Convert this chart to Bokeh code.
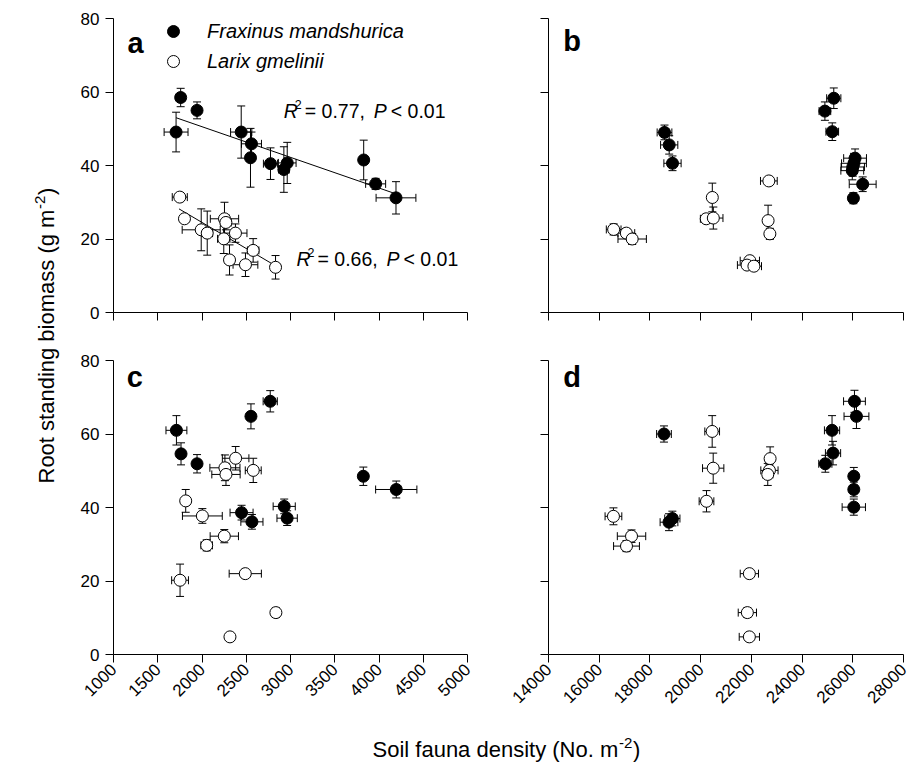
import math
from bokeh.plotting import figure
from bokeh.layouts import row, column
from bokeh.models import (Range1d, FixedTicker, ColumnDataSource, Whisker, TeeHead,
                          Label, Legend, LegendItem)
from bokeh.embed import file_html
from bokeh.resources import INLINE

FONT = "Liberation Sans"
MID = 0.3465  # distance (in em) from alphabetic baseline up to the em-box middle

# ---------------- data ----------------
y_ticks = [0, 20, 40, 60, 80]
left_x_ticks = [1000, 1500, 2000, 2500, 3000, 3500, 4000, 4500, 5000]
right_x_ticks = [14000, 16000, 18000, 20000, 22000, 24000, 26000, 28000]

# panel a
a_fm_x = [1759, 1944, 1707, 2443, 2559, 2548, 2774, 2963, 2925, 3827, 3962, 4192]
a_fm_xerr = [50, 30, 135, 120, 113, 40, 80, 100, 60, 20, 113, 225]
a_fm_y = [58.5, 55.0, 49.1, 49.1, 45.9, 42.1, 40.5, 40.7, 38.9, 41.5, 35.0, 31.2]
a_fm_yerr = [2.5, 2.3, 5.4, 7.1, 3.2, 8.0, 4.3, 5.6, 6.2, 5.4, 1.5, 4.4]
a_lg_x = [1749, 1802, 1991, 2059, 2254, 2270, 2246, 2378, 2311, 2491, 2578, 2831]
a_lg_xerr = [85, 30, 215, 60, 160, 60, 70, 130, 50, 140, 65, 40]
a_lg_y = [31.4, 25.5, 22.5, 21.6, 25.5, 24.5, 20.05, 21.6, 14.3, 13.0, 16.9, 12.3]
a_lg_yerr = [0.5, 1.0, 5.7, 6.0, 4.5, 2.0, 4.0, 2.5, 4.1, 3.2, 3.2, 3.2]
a_fm_fit_x = [1707, 4165]
a_fm_fit_y = [53.0, 32.5]
a_lg_fit_x = [1740, 2860]
a_lg_fit_y = [28.2, 12.3]
a_stats = [("0.77", "0.01"), ("0.66", "0.01")]

# panel b
b_fm_x = [18575, 18760, 18890, 24900, 25250, 25190, 26090, 26047, 26000, 25980, 26390, 26024]
b_fm_xerr = [290, 340, 340, 230, 280, 250, 450, 490, 460, 450, 530, 100]
b_fm_y = [49.0, 45.6, 40.6, 54.8, 58.3, 49.2, 42.0, 40.6, 39.6, 38.6, 34.9, 31.1]
b_fm_yerr = [2.0, 2.5, 2.0, 2.5, 2.8, 2.4, 2.5, 2.7, 2.5, 2.5, 2.0, 1.5]
b_lg_x = [16570, 17070, 17300, 20460, 20220, 20500, 22690, 22660, 22730, 21940, 21830, 22100]
b_lg_xerr = [290, 330, 560, 100, 230, 380, 330, 100, 120, 380, 380, 300]
b_lg_y = [22.6, 21.6, 20.0, 31.3, 25.5, 25.7, 35.8, 25.0, 21.4, 14.1, 12.9, 12.6]
b_lg_yerr = [1.5, 1.2, 1.5, 3.9, 1.0, 3.0, 0.8, 4.2, 1.5, 1.0, 1.0, 1.0]

# panel c
c_fm_x = [1711, 1763, 1944, 2553, 2771, 2447, 2564, 2929, 2962, 3823, 4195]
c_fm_xerr = [118, 40, 40, 40, 80, 130, 125, 125, 115, 25, 233]
c_fm_y = [61.0, 54.6, 51.9, 64.8, 68.9, 38.6, 36.1, 40.3, 37.1, 48.5, 44.9]
c_fm_yerr = [4.0, 3.0, 2.5, 3.4, 2.9, 2.0, 2.0, 2.0, 2.0, 2.5, 2.3]
c_lg_x = [1816, 2004, 2053, 2252, 1752, 2489, 2835, 2316, 2380, 2259, 2271, 2579]
c_lg_xerr = [30, 225, 65, 160, 95, 182, 40, 40, 150, 170, 160, 90]
c_lg_y = [41.8, 37.7, 29.7, 32.2, 20.2, 22.0, 11.4, 4.8, 53.4, 50.8, 49.0, 50.1]
c_lg_yerr = [3.1, 2.0, 1.5, 1.8, 4.4, 1.0, 1.3, 0.7, 3.2, 3.5, 3.0, 3.3]

# panel d
d_fm_x = [18554, 18752, 18884, 25182, 25221, 24917, 26066, 26145, 26040, 26040, 26040]
d_fm_xerr = [290, 350, 300, 300, 300, 260, 430, 490, 100, 100, 460]
d_fm_y = [60.0, 36.0, 37.0, 61.0, 54.8, 51.9, 68.9, 64.8, 48.5, 44.9, 40.1]
d_fm_yerr = [2.2, 2.3, 2.0, 4.0, 3.2, 2.3, 3.0, 3.3, 2.4, 2.0, 2.2]
d_lg_x = [16561, 17274, 17076, 20231, 20455, 20495, 22739, 22713, 22647, 21921, 21842, 21921]
d_lg_xerr = [330, 560, 510, 290, 290, 420, 100, 340, 200, 360, 360, 400]
d_lg_y = [37.6, 32.2, 29.5, 41.7, 60.7, 50.7, 53.3, 50.1, 49.0, 22.0, 11.4, 4.8]
d_lg_yerr = [2.3, 1.7, 1.5, 2.9, 4.3, 4.1, 3.2, 1.5, 3.0, 1.0, 1.3, 0.7]

species = ["Fraxinus mandshurica", "Larix gmelinii"]
panel_letters = ["a", "b", "c", "d"]
y_title = ["Root standing biomass (g m", "-2", ")"]
x_title = ["Soil fauna density (No. m", "-2", ")"]


# ---------------- helpers ----------------
def make_panel(xr, xticks, width, height, borders, show_x, show_y):
    p = figure(width=width, height=height, x_range=Range1d(*xr), y_range=Range1d(0, 80),
               output_backend="svg", toolbar_location=None,
               min_border_left=borders[0], min_border_right=borders[1],
               min_border_top=borders[2], min_border_bottom=borders[3])
    p.grid.visible = False
    p.outline_line_color = None
    p.background_fill_color = "white"
    p.border_fill_color = "white"
    p.xaxis.ticker = FixedTicker(ticks=xticks)
    p.yaxis.ticker = FixedTicker(ticks=y_ticks)
    for ax in (p.xaxis[0], p.yaxis[0]):
        ax.axis_line_color = "black"
        ax.axis_line_width = 1
        ax.major_tick_line_color = "black"
        ax.major_tick_out = 8
        ax.major_tick_in = 0
        ax.minor_tick_line_color = None
        ax.major_label_text_font = FONT
        ax.major_label_text_font_size = "17px"
        ax.major_label_text_color = "black"
        ax.major_label_standoff = 6
    if show_x:
        p.xaxis.major_label_orientation = math.pi / 4
        p.xaxis.major_label_standoff = 4
    else:
        p.xaxis.major_label_text_font_size = "0px"
        p.xaxis.major_label_text_color = None
    if not show_y:
        p.yaxis.major_label_text_font_size = "0px"
        p.yaxis.major_label_text_color = None
    return p


def add_series(p, x, xerr, y, yerr, fill):
    src = ColumnDataSource(dict(
        x=x, y=y,
        xl=[a - b for a, b in zip(x, xerr)], xu=[a + b for a, b in zip(x, xerr)],
        yl=[a - b for a, b in zip(y, yerr)], yu=[a + b for a, b in zip(y, yerr)],
    ))
    for dim, base, lo, up in (("height", "x", "yl", "yu"), ("width", "y", "xl", "xu")):
        w = Whisker(source=src, base=base, lower=lo, upper=up, dimension=dim,
                    line_color="black", line_width=1,
                    lower_head=TeeHead(size=8, line_color="black", line_width=1),
                    upper_head=TeeHead(size=8, line_color="black", line_width=1))
        p.add_layout(w)
    r = p.scatter("x", "y", source=src, size=12, marker="circle",
                  fill_color=fill, line_color="black", line_width=1)
    return r


def text_at(p, x, y_base, txt, size_px, style, y_per_px, angle=0.0):
    # place text so that its alphabetic baseline sits at y_base (data units)
    if angle == 0.0:
        xm, ym = x, y_base + MID * size_px * y_per_px
    else:  # rotated 90deg: "up" of the text points to -x
        xm, ym = x - MID * size_px * y_per_px, y_base
    p.add_layout(Label(x=xm, y=ym, text=txt, text_font=FONT, text_font_style=style,
                       text_font_size="%spx" % size_px, text_color="black",
                       text_baseline="middle", text_align="left", angle=angle))


def stat_text(p, x, y_base, r2, pv, x_per_px, y_per_px):
    pieces = [
        (0, 0, "R", "italic", 19.5),
        (11, 8.4, "2", "normal", 12.5),
        (21, 0, "= %s," % r2, "normal", 19.5),
        (90, 0, "P", "italic", 19.5),
        (107, 0, "< %s" % pv, "normal", 19.5),
    ]
    for dx, dy, t, style, size in pieces:
        text_at(p, x + dx * x_per_px, y_base + dy * y_per_px, t, size, style, y_per_px)


# ---------------- panels ----------------
pa = make_panel((1000, 5000), left_x_ticks, 448, 337, (53, 41, 18, 25), False, True)
pb = make_panel((14000, 28000), right_x_ticks, 408, 337, (40, 13, 18, 25), False, False)
pc = make_panel((1000, 5000), left_x_ticks, 448, 393, (53, 41, 23, 76), True, True)
pd = make_panel((14000, 28000), right_x_ticks, 408, 393, (40, 13, 23, 76), True, False)

pa.line(a_fm_fit_x, a_fm_fit_y, line_color="black", line_width=1)
pa.line(a_lg_fit_x, a_lg_fit_y, line_color="black", line_width=1)
ra_fm = add_series(pa, a_fm_x, a_fm_xerr, a_fm_y, a_fm_yerr, "black")
ra_lg = add_series(pa, a_lg_x, a_lg_xerr, a_lg_y, a_lg_yerr, "white")

add_series(pb, b_fm_x, b_fm_xerr, b_fm_y, b_fm_yerr, "black")
add_series(pb, b_lg_x, b_lg_xerr, b_lg_y, b_lg_yerr, "white")
add_series(pc, c_fm_x, c_fm_xerr, c_fm_y, c_fm_yerr, "black")
add_series(pc, c_lg_x, c_lg_xerr, c_lg_y, c_lg_yerr, "white")
add_series(pd, d_fm_x, d_fm_xerr, d_fm_y, d_fm_yerr, "black")
add_series(pd, d_lg_x, d_lg_xerr, d_lg_y, d_lg_yerr, "white")

legend = Legend(items=[LegendItem(label=species[0], renderers=[ra_fm]),
                       LegendItem(label=species[1], renderers=[ra_lg])],
                location=(45, 236), orientation="vertical",
                glyph_width=30, glyph_height=30, label_height=30, spacing=0,
                label_standoff=19, padding=0, margin=0,
                border_line_color=None, background_fill_alpha=0,
                label_text_font=FONT, label_text_font_style="italic",
                label_text_font_size="20px", label_text_color="black")
pa.add_layout(legend)

# unit conversions (data units per screen pixel)
lx = 4000 / 354
rx = 14000 / 355
py = 80 / 294

stat_text(pa, 2924, 53.1, a_stats[0][0], a_stats[0][1], lx, py)
stat_text(pa, 3068, 12.8, a_stats[1][0], a_stats[1][1], lx, py)

text_at(pa, 1158, 70.7, panel_letters[0], 29, "bold", py)
text_at(pb, 14585, 71.2, panel_letters[1], 29, "bold", py)
text_at(pc, 1150, 72.8, panel_letters[2], 29, "bold", py)
text_at(pd, 14585, 72.8, panel_letters[3], 29, "bold", py)

# ---------------- shared axis titles (1 unit = 1 px) ----------------
ylab = figure(width=60, height=770, x_range=Range1d(0, 60), y_range=Range1d(0, 770),
              x_axis_type=None, y_axis_type=None, output_backend="svg",
              toolbar_location=None, min_border=0, outline_line_color=None)
ylab.grid.visible = False
text_at(ylab, 54, 287, y_title[0], 22, "normal", 1, angle=math.pi / 2)
text_at(ylab, 45, 561.5, y_title[1], 15, "normal", 1, angle=math.pi / 2)
text_at(ylab, 54, 575.5, y_title[2], 22, "normal", 1, angle=math.pi / 2)

xlab = figure(width=856, height=40, x_range=Range1d(0, 856), y_range=Range1d(0, 40),
              x_axis_type=None, y_axis_type=None, output_backend="svg",
              toolbar_location=None, min_border=0, outline_line_color=None)
xlab.grid.visible = False
text_at(xlab, 312, 13.5, x_title[0], 22, "normal", 1)
text_at(xlab, 558.5, 22.5, x_title[1], 15, "normal", 1)
text_at(xlab, 572.5, 13.5, x_title[2], 22, "normal", 1)

layout = row(ylab, column(row(pa, pb), row(pc, pd), xlab))

open("out.html", "w").write(file_html(layout, INLINE))
